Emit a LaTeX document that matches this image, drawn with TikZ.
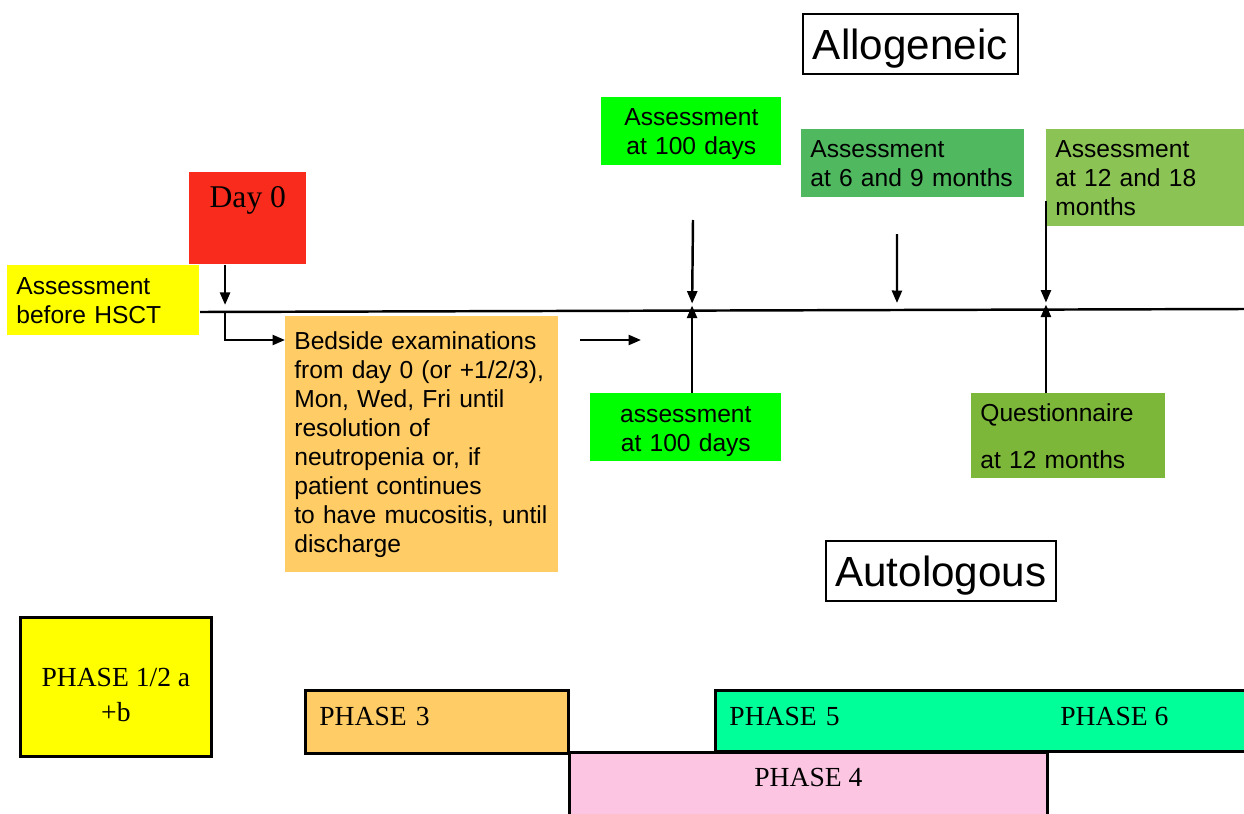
\documentclass[tikz,border=0pt]{standalone}
\usepackage{fontspec}
\setmainfont{Liberation Sans}
\newfontfamily\timesfont{Liberation Serif}
\usetikzlibrary{calc,arrows.meta}
\newcommand\phasefont{\timesfont\fontsize{15.7}{19.5}\selectfont}
\definecolor{dayred}{RGB}{249,43,28}
\definecolor{hsctyellow}{RGB}{255,255,0}
\definecolor{bedorange}{RGB}{255,204,102}
\definecolor{brightgreen}{RGB}{0,255,0}
\definecolor{midgreen}{RGB}{80,185,95}
\definecolor{lightgreen}{RGB}{140,195,85}
\definecolor{questgreen}{RGB}{125,183,58}
\definecolor{phasepink}{RGB}{252,198,226}
\definecolor{phasegreen}{RGB}{0,255,153}

\begin{document}
\begin{tikzpicture}[>={Triangle[length=0.25cm,width=0.2cm]},
	abox/.style={anchor=north west, inner xsep=0.18cm, inner ysep=0pt, align=left, font=\fontsize{14}{16.5}\selectfont},
	title/.style={anchor=north west, draw, line width=0.9pt, inner sep=0pt, minimum width=#1, minimum height=1.2cm, text depth=0pt, font=\fontsize{24}{28}\selectfont},
	phase/.style={anchor=north west, draw, line width=1.6pt, inner sep=0pt, font=\phasefont},
	line/.style={line width=1.4pt},
	arr/.style={line, ->},
	hitdown/.style={shorten >=0.14cm},
	hitup/.style={shorten >=-0.1cm}]
	\useasboundingbox (0,0) rectangle (24.88,-16.28);
	\clip (0,0) rectangle (24.88,-16.28);
	
	%titles
	\node[title=4.30cm] (allo) at (16.04,-0.26) {Allogeneic};
	\node[title=4.60cm] (auto) at (16.50,-10.80) {Autologous};
	
	%assessments above the line
	\node[abox, fill=brightgreen, align=center, text width=3.24cm, minimum height=1.36cm] (a100) at (12.02,-1.94) {\\[-0.12cm]Assessment\\at 100 days};
	\node[abox, fill=midgreen, text width=4.10cm, minimum height=1.36cm] (a69) at (16.02,-2.58) {Assessment\\at 6 and 9 months};
	\node[abox, fill=lightgreen, text width=3.60cm, minimum height=1.94cm] (late) at (20.92,-2.58) {Assessment\\at 12 and 18\\months};
	
	%day 0 and before
	\node[anchor=north west, fill=dayred, inner sep=0pt, minimum width=2.34cm, text height=0.7cm, text depth=1.14cm, font=\timesfont\fontsize{18}{22}\selectfont] (day0) at (3.78,-3.44) {Day 0};
	\node[abox, fill=hsctyellow, text width=3.48cm, minimum height=1.40cm] (hsct) at (0.14,-5.30) {Assessment\\before HSCT};
	
	%below the line
	\node[abox, fill=bedorange, text width=5.10cm, minimum height=5.12cm] (bedside) at (5.70,-6.32) {Bedside examinations\\from day 0 (or +1/2/3),\\Mon, Wed, Fri until\\resolution of\\neutropenia or, if\\patient continues\\to have mucositis, until\\discharge};
	\node[abox, fill=brightgreen, align=center, text width=3.46cm, minimum height=1.36cm] (a100b) at (11.80,-7.86) {\\[-0.1cm]assessment\\at 100 days};
	\node[abox, fill=questgreen, text width=3.52cm, minimum height=1.70cm] (quest) at (19.42,-7.86) {Questionnaire\\[0.36cm]at 12 months};
	
	%time line
	\coordinate (tl0) at (4.0,-6.24);
	\coordinate (tl1) at (24.88,-6.18);
	\draw[line] (tl0) -- (tl1) coordinate[pos=0.024] (t0) coordinate[pos=0.4713] (t100) coordinate[pos=0.6676] (t69) coordinate[pos=0.8103] (t1218);
	
	%arrows
	\draw[arr, hitdown] (day0.south -| t0) -- (t0);
	\draw[arr] (t0) |- (bedside.west |- 0,-6.8);
	\coordinate (f0) at (11.6,-6.8);
	\coordinate (f1) at (12.82,-6.8);
	\draw[arr] (f0) -- (f1);
	\coordinate (d100) at (13.86,-4.40);
	\draw[arr, hitdown] (d100) -- (t100);
	\draw[arr, hitup] (a100b.north -| t100) -- (t100);
	\coordinate (d69) at (17.94,-4.68);
	\draw[arr, hitdown] (d69) -- (t69);
	\draw[arr, hitdown] ($(t1218 |- late.south)+(0,0.52)$) -- (t1218);
	\draw[arr, hitup] (quest.north -| t1218) -- (t1218);
	
	%phases
	\node[phase, fill=hsctyellow, minimum width=3.82cm, minimum height=2.78cm] (ph12) at (0.38,-12.32) {};
	\node[align=center, inner sep=0pt, font=\phasefont] (ph12txt) at ([yshift=-0.16cm]ph12.center) {PHASE 1/2 a\\+b};
	\node[phase, fill=bedorange, inner xsep=0.28cm, align=left, text width=4.70cm, text height=0.71cm, text depth=0.55cm] (ph3) at (6.08,-13.78) {PHASE 3};
	\node[phase, fill=phasegreen, inner xsep=0.28cm, align=left, text width=10.16cm, text height=0.70cm, text depth=0.52cm] (ph56) at (14.28,-13.78) {PHASE 5};
	\node[anchor=base west, inner sep=0pt, font=\phasefont] (ph6) at (ph56.base -| 21.2,0) {PHASE 6};
	\node[phase, fill=phasepink, minimum width=9.56cm, text height=0.68cm, text depth=0.68cm] (ph4) at (11.36,-15.02) {PHASE 4};
\end{tikzpicture}
\end{document}
